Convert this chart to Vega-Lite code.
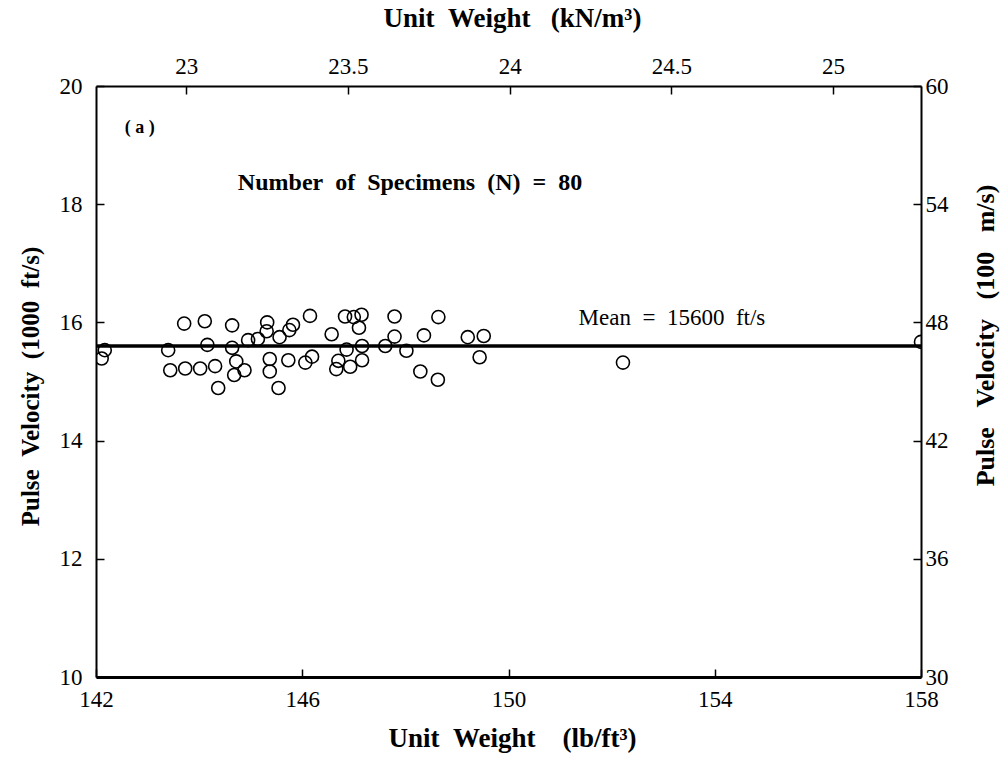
{
  "$schema": "https://vega.github.io/schema/vega-lite/v6.json",
  "width": 825,
  "height": 591,
  "autosize": "none",
  "padding": {"left": 96, "top": 86, "right": 84, "bottom": 84},
  "background": "white",
  "config": {
    "view": {"stroke": null},
    "font": "Liberation Serif",
    "axis": {
      "grid": false,
      "domainColor": "black",
      "domainWidth": 2,
      "tickColor": "black",
      "tickSize": -8,
      "tickWidth": 1.5,
      "labelColor": "black",
      "labelFont": "Liberation Serif",
      "labelFontSize": 23,
      "labelFlush": false,
      "labelOverlap": false,
      "titleColor": "black",
      "titleFont": "Liberation Serif",
      "titleFontSize": 25,
      "titleFontWeight": "bold"
    }
  },
  "data": {
    "values": [
      {"uw": 142.17, "pv": 15.53}, {"uw": 142.11, "pv": 15.39}, {"uw": 143.40, "pv": 15.53},
      {"uw": 143.44, "pv": 15.19}, {"uw": 143.73, "pv": 15.22}, {"uw": 143.71, "pv": 15.98},
      {"uw": 144.02, "pv": 15.22}, {"uw": 144.11, "pv": 16.02}, {"uw": 144.16, "pv": 15.62},
      {"uw": 144.31, "pv": 15.26}, {"uw": 144.37, "pv": 14.89}, {"uw": 144.64, "pv": 15.95},
      {"uw": 144.64, "pv": 15.57}, {"uw": 144.72, "pv": 15.34}, {"uw": 144.88, "pv": 15.19},
      {"uw": 144.68, "pv": 15.11}, {"uw": 144.95, "pv": 15.70}, {"uw": 145.14, "pv": 15.72},
      {"uw": 145.32, "pv": 16.00}, {"uw": 145.31, "pv": 15.85}, {"uw": 145.56, "pv": 15.75},
      {"uw": 145.37, "pv": 15.38}, {"uw": 145.37, "pv": 15.17}, {"uw": 145.54, "pv": 14.89},
      {"uw": 145.75, "pv": 15.87}, {"uw": 145.82, "pv": 15.96}, {"uw": 145.73, "pv": 15.36},
      {"uw": 146.06, "pv": 15.32}, {"uw": 146.19, "pv": 15.42}, {"uw": 146.15, "pv": 16.11},
      {"uw": 146.57, "pv": 15.80}, {"uw": 146.70, "pv": 15.35}, {"uw": 146.66, "pv": 15.21},
      {"uw": 146.83, "pv": 16.10}, {"uw": 147.00, "pv": 16.09}, {"uw": 146.86, "pv": 15.54},
      {"uw": 146.93, "pv": 15.25}, {"uw": 147.15, "pv": 16.13}, {"uw": 147.10, "pv": 15.91},
      {"uw": 147.16, "pv": 15.60}, {"uw": 147.16, "pv": 15.36}, {"uw": 147.61, "pv": 15.60},
      {"uw": 147.79, "pv": 16.10}, {"uw": 147.79, "pv": 15.76}, {"uw": 148.02, "pv": 15.52},
      {"uw": 148.36, "pv": 15.78}, {"uw": 148.29, "pv": 15.17}, {"uw": 148.64, "pv": 16.09},
      {"uw": 148.63, "pv": 15.03}, {"uw": 149.21, "pv": 15.75}, {"uw": 149.52, "pv": 15.77},
      {"uw": 149.44, "pv": 15.41}, {"uw": 152.22, "pv": 15.32}, {"uw": 158.0, "pv": 15.67}
    ]
  },
  "layer": [
    {
      "mark": {"type": "point", "shape": "circle", "filled": false, "stroke": "black", "strokeWidth": 1.6, "size": 170, "opacity": 1, "clip": true},
      "encoding": {
        "x": {
          "field": "uw", "type": "quantitative",
          "scale": {"domain": [142, 158], "nice": false, "zero": false},
          "axis": {
            "orient": "bottom", "values": [142, 146, 150, 154, 158], "domainWidth": 3,
            "labelPadding": 19, "labelBaseline": "top",
            "title": "Unit\u00a0\u00a0Weight\u00a0\u00a0\u00a0\u00a0(lb/ft³)", "titleFontSize": 27, "titleX": 416, "titleY": 61, "titleBaseline": "middle", "titleAnchor": "middle"
          }
        },
        "y": {
          "field": "pv", "type": "quantitative",
          "scale": {"domain": [10, 20], "nice": false, "zero": false},
          "axis": {
            "orient": "left", "values": [10, 12, 14, 16, 18, 20],
            "labelPadding": 22,
            "title": "Pulse\u00a0\u00a0Velocity\u00a0\u00a0(1000\u00a0\u00a0ft/s)", "titleX": -66, "titleY": 300, "titleBaseline": "middle", "titleAngle": -90
          }
        }
      }
    },
    {
      "data": {"values": [{}]},
      "mark": {"type": "rule", "stroke": "black", "strokeWidth": 3.5},
      "encoding": {
        "x": {
          "datum": 22.721, "type": "quantitative",
          "scale": {"domain": [22.721, 25.272], "nice": false, "zero": false},
          "axis": {
            "orient": "top", "values": [23, 23.5, 24, 24.5, 25], "format": "~g",
            "labelPadding": 16,
            "title": "Unit\u00a0\u00a0Weight\u00a0\u00a0\u00a0(kN/m³)", "titleFontSize": 27, "titleX": 416, "titleY": -68, "titleBaseline": "middle", "titleAnchor": "middle"
          }
        },
        "x2": {"datum": 25.272},
        "y": {
          "datum": 46.8, "type": "quantitative",
          "scale": {"domain": [30, 60], "nice": false, "zero": false},
          "axis": {
            "orient": "right", "values": [30, 36, 42, 48, 54, 60],
            "labelPadding": 12,
            "title": "Pulse\u00a0\u00a0\u00a0Velocity\u00a0\u00a0\u00a0(100\u00a0\u00a0\u00a0m/s)", "titleFontSize": 26, "titleX": 64, "titleY": 249, "titleBaseline": "middle", "titleAngle": -90
          }
        }
      }
    },
    {
      "data": {"values": [
        {"label": "(\u00a0a\u00a0)", "lx": 142.85, "ly": 19.29}
      ]},
      "mark": {"type": "text", "font": "Liberation Serif", "fontSize": 18, "fontWeight": "bold", "color": "black"},
      "encoding": {
        "x": {"field": "lx", "type": "quantitative", "scale": {"domain": [142, 158], "nice": false, "zero": false}, "axis": null},
        "y": {"field": "ly", "type": "quantitative", "scale": {"domain": [10, 20], "nice": false, "zero": false}, "axis": null},
        "text": {"field": "label"}
      }
    },
    {
      "data": {"values": [
        {"label": "Number\u00a0\u00a0of\u00a0\u00a0Specimens\u00a0\u00a0(N)\u00a0\u00a0=\u00a0\u00a080", "lx": 148.09, "ly": 18.36}
      ]},
      "mark": {"type": "text", "font": "Liberation Serif", "fontSize": 24, "fontWeight": "bold", "color": "black"},
      "encoding": {
        "x": {"field": "lx", "type": "quantitative", "scale": {"domain": [142, 158], "nice": false, "zero": false}, "axis": null},
        "y": {"field": "ly", "type": "quantitative", "scale": {"domain": [10, 20], "nice": false, "zero": false}, "axis": null},
        "text": {"field": "label"}
      }
    },
    {
      "data": {"values": [
        {"label": "Mean\u00a0\u00a0=\u00a0\u00a015600\u00a0\u00a0ft/s", "lx": 153.17, "ly": 16.07}
      ]},
      "mark": {"type": "text", "font": "Liberation Serif", "fontSize": 23, "color": "black"},
      "encoding": {
        "x": {"field": "lx", "type": "quantitative", "scale": {"domain": [142, 158], "nice": false, "zero": false}, "axis": null},
        "y": {"field": "ly", "type": "quantitative", "scale": {"domain": [10, 20], "nice": false, "zero": false}, "axis": null},
        "text": {"field": "label"}
      }
    }
  ],
  "resolve": {"scale": {"x": "independent", "y": "independent"}, "axis": {"x": "independent", "y": "independent"}}
}
